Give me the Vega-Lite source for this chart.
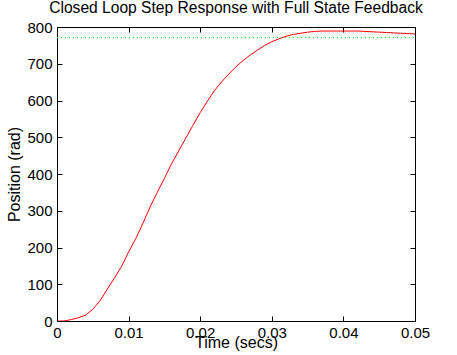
{
  "$schema": "https://vega.github.io/schema/vega-lite/v6.json",
  "width": 358,
  "height": 294,
  "autosize": "none",
  "padding": {"left": 57, "top": 27, "right": 42, "bottom": 34},
  "background": "white",
  "title": {
    "text": "Closed Loop Step Response with Full State Feedback",
    "font": "Liberation Sans",
    "fontSize": 15.6,
    "fontWeight": "normal",
    "color": "black",
    "frame": "group",
    "offset": 3,
    "anchor": "middle"
  },
  "config": {
    "view": {"stroke": "black", "strokeWidth": 1},
    "axis": {
      "labelFont": "Liberation Sans",
      "labelFontSize": 15,
      "labelColor": "black",
      "titleFont": "Liberation Sans",
      "titleFontSize": 16,
      "titleFontWeight": "normal",
      "titleColor": "black",
      "domainColor": "black",
      "tickColor": "black",
      "grid": false,
      "tickSize": -5
    }
  },
  "datasets": {
    "resp": [
      {"t": 0.000, "v": 0}, {"t": 0.001, "v": 0}, {"t": 0.002, "v": 4}, {"t": 0.003, "v": 9},
      {"t": 0.004, "v": 16}, {"t": 0.005, "v": 32}, {"t": 0.006, "v": 55}, {"t": 0.007, "v": 86},
      {"t": 0.008, "v": 116}, {"t": 0.009, "v": 148}, {"t": 0.010, "v": 188}, {"t": 0.011, "v": 224},
      {"t": 0.012, "v": 266}, {"t": 0.013, "v": 310}, {"t": 0.014, "v": 350}, {"t": 0.015, "v": 388},
      {"t": 0.016, "v": 428}, {"t": 0.017, "v": 463}, {"t": 0.018, "v": 498}, {"t": 0.019, "v": 533},
      {"t": 0.020, "v": 567}, {"t": 0.021, "v": 598}, {"t": 0.022, "v": 627}, {"t": 0.023, "v": 651},
      {"t": 0.024, "v": 672}, {"t": 0.025, "v": 692}, {"t": 0.026, "v": 709}, {"t": 0.027, "v": 724},
      {"t": 0.028, "v": 737}, {"t": 0.029, "v": 750}, {"t": 0.030, "v": 760}, {"t": 0.031, "v": 768},
      {"t": 0.032, "v": 775}, {"t": 0.033, "v": 780}, {"t": 0.034, "v": 783}, {"t": 0.035, "v": 786},
      {"t": 0.036, "v": 788}, {"t": 0.037, "v": 789}, {"t": 0.038, "v": 789}, {"t": 0.039, "v": 789},
      {"t": 0.040, "v": 789}, {"t": 0.041, "v": 789}, {"t": 0.042, "v": 789}, {"t": 0.043, "v": 788},
      {"t": 0.044, "v": 787}, {"t": 0.045, "v": 786}, {"t": 0.046, "v": 785}, {"t": 0.047, "v": 784},
      {"t": 0.048, "v": 783}, {"t": 0.049, "v": 782}, {"t": 0.050, "v": 781}
    ],
    "ref": [{"t": 0, "v": 771.43}, {"t": 0.05, "v": 771.43}]
  },
  "layer": [
    {
      "data": {"name": "resp"},
      "mark": {"type": "line", "color": "#ff0000", "strokeWidth": 1, "clip": true},
      "encoding": {
        "x": {
          "field": "t", "type": "quantitative",
          "scale": {"domain": [0, 0.05], "nice": false, "zero": false},
          "axis": {"title": "Time (secs)", "values": [0, 0.01, 0.02, 0.03, 0.04, 0.05], "format": "~g", "labelPadding": 9, "titlePadding": -6, "labelFlush": false}
        },
        "y": {
          "field": "v", "type": "quantitative",
          "scale": {"domain": [0, 800], "nice": false},
          "axis": {"title": "Position (rad)", "values": [0, 100, 200, 300, 400, 500, 600, 700, 800], "labelPadding": 10, "titlePadding": 4, "labelFlush": false}
        }
      }
    },
    {
      "data": {"name": "ref"},
      "mark": {"type": "line", "color": "#00ff00", "strokeWidth": 1, "strokeDash": [1, 3]},
      "encoding": {
        "x": {
          "field": "t", "type": "quantitative",
          "scale": {"domain": [0, 0.05], "nice": false, "zero": false},
          "axis": {"orient": "top", "title": null, "labels": false, "values": [0, 0.01, 0.02, 0.03, 0.04, 0.05], "domain": false}
        },
        "y": {
          "field": "v", "type": "quantitative",
          "scale": {"domain": [0, 800], "nice": false},
          "axis": {"orient": "right", "title": null, "labels": false, "values": [0, 100, 200, 300, 400, 500, 600, 700, 800], "domain": false}
        }
      }
    }
  ],
  "resolve": {"axis": {"x": "independent", "y": "independent"}}
}
